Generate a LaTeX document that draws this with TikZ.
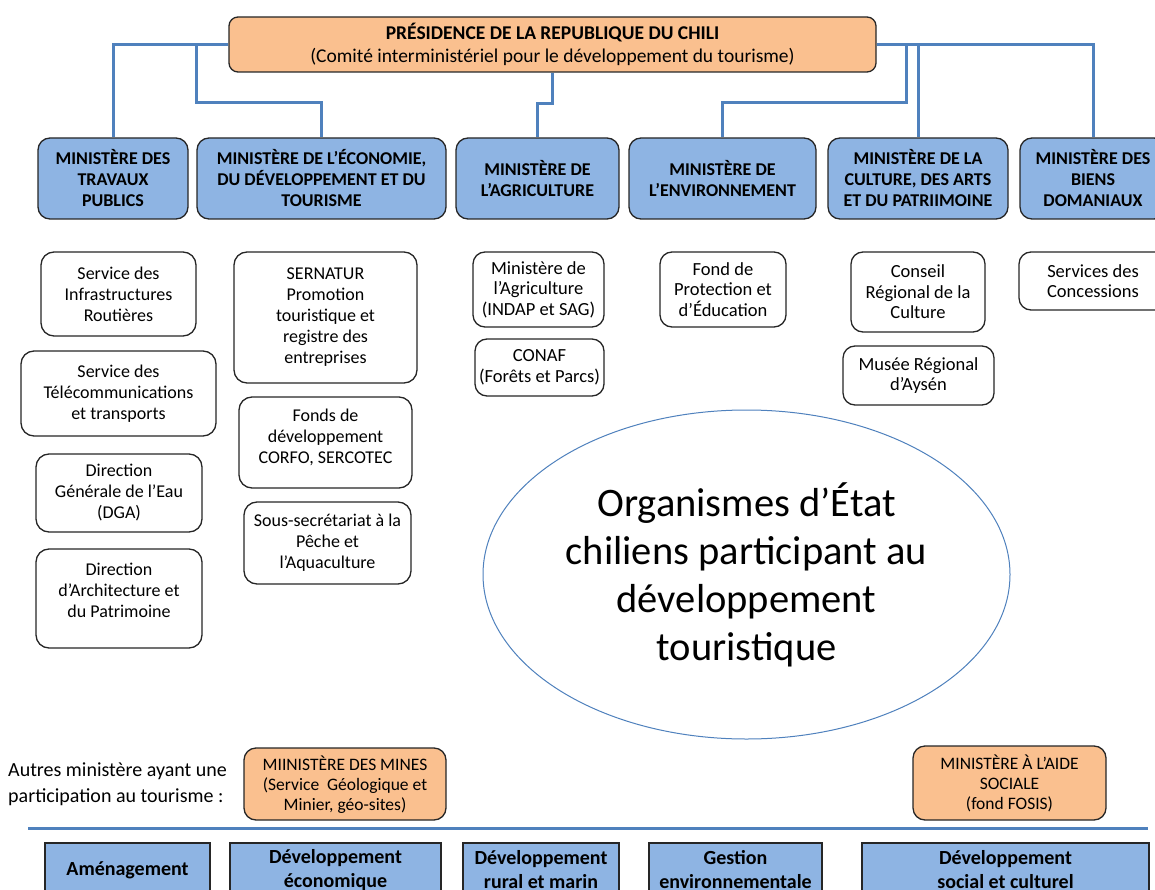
\documentclass[tikz,border=0pt]{standalone}
\usepackage{fontspec}
\setmainfont{Carlito}
\usetikzlibrary{shapes.geometric}
\definecolor{minblue}{HTML}{8EB4E3}
\definecolor{presorange}{HTML}{FAC08F}
\definecolor{connblue}{HTML}{4F81BD}
\newcommand{\liftlines}[2]{\raisebox{#1}[\height][\depth]{\begin{tabular}{@{}c@{}}#2\end{tabular}}}
\tikzset{
  base/.style={draw=black!85, line width=1.3pt, inner sep=0pt, align=center},
  presbox/.style={base, fill=presorange, rounded corners=9pt, font=\fontsize{19.5}{23}\selectfont},
  minbox/.style={base, fill=minblue, rounded corners=12pt, font=\bfseries\fontsize{18}{21}\selectfont},
  subbox/.style={base, fill=white, rounded corners=13pt, font=\fontsize{18}{21}\selectfont},
  smallsub/.style={base, fill=white, rounded corners=12pt, font=\fontsize{18.5}{20.5}\selectfont},
  otherbox/.style={base, fill=presorange, rounded corners=12pt, font=\fontsize{17.5}{20}\selectfont},
  axisbox/.style={base, fill=minblue, font=\bfseries\fontsize{20}{24}\selectfont},
  conn/.style={draw=connblue, line width=3pt},
}
\begin{document}
\begin{tikzpicture}[x=1pt,y=-1pt]
\useasboundingbox (0,0) rectangle (1155,890);
\clip (0,0) rectangle (1155,890);

% Presidency
\node[presbox, minimum width=647, minimum height=55] (pres) at (552.5,44.5)
  {\textbf{PRÉSIDENCE DE LA REPUBLIQUE DU CHILI}\\(Comité interministériel pour le développement du tourisme)};

% Ministries
\node[minbox, minimum width=150, minimum height=81] (m1) at (113,178.5) {MINISTÈRE DES\\TRAVAUX\\PUBLICS};
\node[minbox, minimum width=249, minimum height=81] (m2) at (321.5,178.5) {MINISTÈRE DE L’ÉCONOMIE,\\DU DÉVELOPPEMENT ET DU\\TOURISME};
\node[minbox, minimum width=163, minimum height=81] (m3) at (537.5,178.5) {MINISTÈRE DE\\L’AGRICULTURE};
\node[minbox, minimum width=187, minimum height=81] (m4) at (722.5,178.5) {MINISTÈRE DE\\L’ENVIRONNEMENT};
\node[minbox, minimum width=180, minimum height=81] (m5) at (918,178.5) {MINISTÈRE DE LA\\CULTURE, DES ARTS\\ET DU PATRIIMOINE};
\node[minbox, minimum width=146, minimum height=81] (m6) at (1093,178.5) {MINISTÈRE DES\\BIENS\\DOMANIAUX};

% Connectors
\draw[conn] (pres.west) -| (m1.north);
\draw[conn] (pres.west -| m2.west) -- (m2.west |- 0,103) -| (m2.north);
\draw[conn] (pres.south) -- ++(0,31) -| (m3.north);
\coordinate (envbranch) at (906,44.5);
\draw[conn] (envbranch) -- (906,103) -| (m4.north);
\draw[conn] (pres.east -| m5.north) -- (m5.north);
\draw[conn] (pres.east) -| (m6.north);

% Sub-organisms: Travaux publics
\node[subbox, minimum width=155, minimum height=84] (s1) at (118.5,294) {Service des\\Infrastructures\\Routières};
\node[subbox, minimum width=195, minimum height=85] (s2) at (118.5,393.5) {Service des\\Télécommunications\\et transports};
\node[subbox, minimum width=166, minimum height=78] (s3) at (119,493) {Direction\\Générale de l’Eau\\(DGA)};
\node[subbox, minimum width=166, minimum height=99] (s4) at (119,598.5) {\liftlines{6pt}{Direction\\d’Architecture et\\du Patrimoine}};

% Economie
\node[subbox, minimum width=183, minimum height=131] (e1) at (325.5,317.5) {SERNATUR\\Promotion\\touristique et\\registre des\\entreprises};
\node[subbox, minimum width=173, minimum height=91] (e2) at (325.5,442.5) {\liftlines{4pt}{Fonds de\\développement\\CORFO, SERCOTEC}};
\node[subbox, minimum width=167, minimum height=82] (e3) at (327.5,543) {Sous-secrétariat à la\\Pêche et\\l’Aquaculture};

% Agriculture
\node[smallsub, minimum width=131, minimum height=75] (a1) at (538.5,289.5) {Ministère de\\l’Agriculture\\(INDAP et SAG)};
\node[smallsub, minimum width=129, minimum height=57] (a2) at (539.5,367.5) {CONAF\\(Forêts et Parcs)};

% Environnement
\node[smallsub, minimum width=126, minimum height=75] (v1) at (723,289.5) {Fond de\\Protection et\\d’Éducation};

% Culture
\node[smallsub, minimum width=134, minimum height=80] (c1) at (918,292) {Conseil\\Régional de la\\Culture};
\node[smallsub, minimum width=151, minimum height=59] (c2) at (918.5,375.5) {Musée Régional\\d’Aysén};

% Biens
\node[smallsub, minimum width=148, minimum height=58] (b1) at (1093,281) {Services des\\Concessions};

% Central ellipse
\node[ellipse, draw=connblue, line width=1pt, fill=white, minimum width=527, minimum height=329, inner sep=0pt, align=center,
  font=\fontsize{40.5}{48}\selectfont] (ell) at (746.5,574.5)
  {Organismes d’État\\chiliens participant au\\développement\\touristique};

% Other ministries
\node[anchor=west, align=left, inner sep=0pt, font=\fontsize{20}{26}\selectfont] (autres) at (8,784)
  {Autres ministère ayant une\\participation au tourisme :};
\node[otherbox, minimum width=202, minimum height=72] (mines) at (345,784)
  {\liftlines{-2pt}{MIINISTÈRE DES MINES\\(Service\ \ Géologique et\\Minier, géo-sites)}};
\node[otherbox, minimum width=193, minimum height=74] (aide) at (1009.5,783)
  {MINISTÈRE À L’AIDE\\SOCIALE\\(fond FOSIS)};

% Separator
\coordinate (sepL) at (28,828);
\coordinate (sepR) at (1148,828);
\draw[conn] (sepL) -- (sepR);

% Axes
\node[axisbox, minimum width=165, minimum height=54] (d1) at (127.5,870) {Aménagement};
\node[axisbox, minimum width=211, minimum height=54] (d2) at (335.5,870) {Développement\\économique};
\node[axisbox, minimum width=156, minimum height=54] (d3) at (541,870) {Développement\\rural et marin};
\node[axisbox, minimum width=173, minimum height=54] (d4) at (735.5,870) {Gestion\\environnementale};
\node[axisbox, minimum width=287, minimum height=54] (d5) at (1005.5,870) {Développement\\social et culturel};
\end{tikzpicture}
\end{document}
